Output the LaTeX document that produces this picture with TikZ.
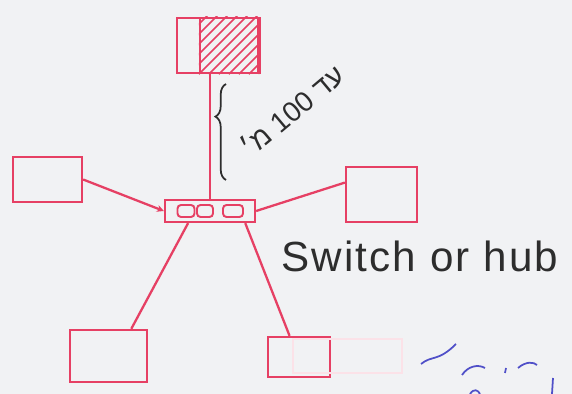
\documentclass[tikz,border=0pt]{standalone}
\usepackage{fontspec}
\setmainfont{Liberation Sans}
\newfontfamily\hebfont[Script=Hebrew]{Liberation Sans}
\newfontfamily\labelfont[LetterSpace=5]{Liberation Sans}
\TeXXeTstate=1
\usepackage{tikz}
\usetikzlibrary{arrows.meta, positioning, calc, decorations.pathreplacing}
\definecolor{PenRed}{RGB}{230, 64, 100}
\definecolor{PenInk}{RGB}{45, 45, 45}
\definecolor{PenBlue}{RGB}{80, 80, 200}
\definecolor{Paper}{RGB}{241, 242, 244}

\begin{document}
\begin{tikzpicture}[
    x=0.02cm,
    y=-0.02cm,
    hostbox/.style={
        rectangle,
        draw=PenRed,
        line width=1.3pt,
        inner sep=0pt
    },
    portbox/.style={
        rectangle,
        rounded corners=2pt,
        draw=PenRed,
        line width=1.1pt,
        inner sep=0pt,
        minimum height=0.24cm
    },
    cable/.style={
        draw=PenRed,
        line width=1.3pt
    }
]
% -------------------------------------------------------------
% PAPER
% -------------------------------------------------------------
\fill[Paper] (0,0) rectangle (572,394);
\useasboundingbox (0,0) rectangle (572,394);
% -------------------------------------------------------------
% SERVER (TOP)
% -------------------------------------------------------------
\node[hostbox, minimum width=1.66cm, minimum height=1.1cm] (serverNode) at (218.5,45.5) {};
\node[hostbox, minimum width=1.16cm, minimum height=1.1cm] (serverHatch) at (229,45.5) {};
\begin{scope}
    \clip (serverHatch.south west) rectangle (serverHatch.north east);
    \foreach \k in {0,...,11}
        \draw[PenRed, line width=1pt] ($(serverHatch.south west)+(\k*10-50,0)$) -- ++(60,-60);
\end{scope}
% -------------------------------------------------------------
% SWITCH
% -------------------------------------------------------------
\node[hostbox, minimum width=1.8cm, minimum height=0.44cm] (switchNode) at (210,211) {};
\node[portbox, minimum width=0.34cm] (portA) at (186,211) {};
\node[portbox, minimum width=0.32cm] (portB) at (205,211) {};
\node[portbox, minimum width=0.4cm] (portC) at (233,211) {};
% -------------------------------------------------------------
% HOSTS
% -------------------------------------------------------------
\node[hostbox, minimum width=1.38cm, minimum height=0.9cm] (leftNode) at (47.5,179.5) {};
\node[hostbox, minimum width=1.42cm, minimum height=1.1cm] (rightNode) at (381.5,194.5) {};
\node[hostbox, minimum width=1.54cm, minimum height=1.04cm] (bottomLeftNode) at (108.5,356) {};
\node[hostbox, minimum width=1.24cm, minimum height=0.8cm] (bottomRightNode) at (299,357) {};
% -------------------------------------------------------------
% CABLES
% -------------------------------------------------------------
\draw[cable] (switchNode.north |- serverNode.south) -- (switchNode.north);
\draw[cable, -{Stealth[length=4pt,width=4pt]}] (leftNode.east) -- (switchNode.west);
\draw[cable] (switchNode.east) -- (rightNode.162);
\draw[cable] (switchNode.209) -- (bottomLeftNode.50);
\draw[cable] (switchNode.341) -- (bottomRightNode.114);
% -------------------------------------------------------------
% LENGTH NOTE
% -------------------------------------------------------------
\coordinate (braceLow) at (226,180);
\coordinate (braceHigh) at (226,84);
\draw[
    PenInk,
    line width=1pt,
    decorate,
    decoration={brace, amplitude=6pt, aspect=0.66}
]
(braceLow) -- (braceHigh);
\node[
    font=\hebfont\fontsize{16}{16}\selectfont,
    text=PenInk,
    rotate=40
] (lengthLabel) at (292,110)
{\beginR עד \beginL100\endL{} מ׳\endR};
% -------------------------------------------------------------
% SWITCH LABEL
% -------------------------------------------------------------
\node[
    font=\labelfont\fontsize{24}{24}\selectfont,
    text=PenInk
] (switchLabel) at (420,256)
{Switch or hub};
% -------------------------------------------------------------
% MARGIN MARKS
% -------------------------------------------------------------
\draw[PenRed!15, line width=1pt] (293,339) rectangle (402,373);
\draw[PenBlue, line width=1pt] (421,364) .. controls (432,355) and (438,362) .. (456,344);
\draw[PenBlue, line width=1pt] (462,375) .. controls (468,366) and (478,364) .. (485,368);
\draw[PenBlue, line width=1pt] (518,368) .. controls (526,361) and (534,362) .. (537,365);
\draw[PenBlue, line width=1pt] (506,368) -- (505,373);
\draw[PenBlue, line width=1pt] (553,378) -- (552,394);
\draw[PenBlue, line width=1pt] (470,394) .. controls (474,388) and (478,390) .. (480,394);
\end{tikzpicture}
\end{document}
